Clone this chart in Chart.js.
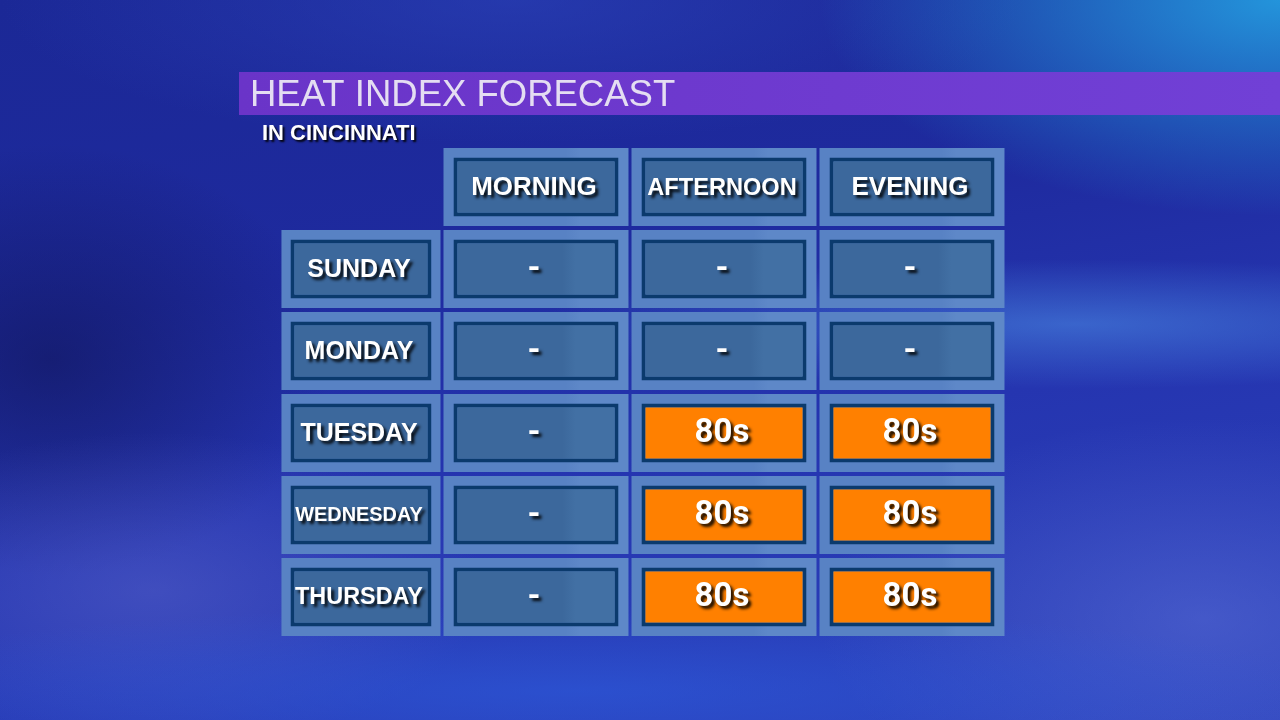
<!DOCTYPE html>
<html>
<head>
<meta charset="utf-8">
<title>Heat Index Forecast</title>
<script src="https://cdn.jsdelivr.net/npm/chart.js@4.4.1/dist/chart.umd.min.js"></script>
<style>
    html, body { margin: 0; padding: 0; width: 1280px; height: 720px; overflow: hidden; }
    body {
        background:
            radial-gradient(ellipse 36% 30% at 100% 0%, rgba(36, 160, 226, 0.9), rgba(36, 160, 226, 0) 100%),
            radial-gradient(ellipse 42% 9% at 84% 45%, rgba(80, 150, 235, 0.5), rgba(80, 150, 235, 0) 100%),
            radial-gradient(ellipse 60% 12% at 45% 96%, rgba(45, 95, 225, 0.55), rgba(45, 95, 225, 0) 100%),
            radial-gradient(ellipse 26% 22% at 12% 82%, rgba(95, 105, 205, 0.45), rgba(95, 105, 205, 0) 100%),
            radial-gradient(ellipse 30% 28% at 94% 86%, rgba(100, 120, 220, 0.45), rgba(100, 120, 220, 0) 100%),
            radial-gradient(ellipse 22% 30% at 4% 50%, rgba(14, 18, 80, 0.55), rgba(14, 18, 80, 0) 100%),
            radial-gradient(ellipse 40% 20% at 40% 0%, rgba(45, 70, 190, 0.55), rgba(45, 70, 190, 0) 100%),
            linear-gradient(170deg, #1b2896 0%, #1e2a9e 35%, #2535b0 60%, #2c42bc 100%);
    }
    canvas { display: block; }
</style>
</head>
<body>
<canvas id="heat-chart" width="1280" height="720"></canvas>
<script>
const titleText = 'HEAT INDEX FORECAST';
const subtitleText = 'IN CINCINNATI';
const periods = ['MORNING', 'AFTERNOON', 'EVENING'];
const days = ['SUNDAY', 'MONDAY', 'TUESDAY', 'WEDNESDAY', 'THURSDAY'];
const morning = ['-', '-', '-', '-', '-'];
const afternoon = ['-', '-', '80s', '80s', '80s'];
const evening = ['-', '-', '80s', '80s', '80s'];
const heatValues = ['80s'];

document.addEventListener('DOMContentLoaded', () => {
    const canvas = document.getElementById('heat-chart');
    const rows = [''].concat(days);
    const columns = [morning, afternoon, evening];

    // column geometry in x-scale units (one unit per period column)
    const dayCol = { center: 0.069, outer: 0.423, inner: 0.375 };
    const periodCol = { outer: 0.492, inner: 0.439 };
    const span = (c, h) => [c - h, c + h];

    const colors = {
        outer: '#5882c4',
        outerLight: '#5e88c8',
        inner: '#3c689c',
        innerLight: '#4270a4',
        border: '#0b3a6d',
        heat: '#ff8000'
    };

    const stepFill = (dark, light) => (ctx) => {
        const chart = ctx.chart;
        const raw = ctx.raw;
        if (!raw || !chart.chartArea) return dark;
        const x0 = chart.scales.x.getPixelForValue(raw[0]);
        const x1 = chart.scales.x.getPixelForValue(raw[1]);
        if (!Number.isFinite(x0) || !Number.isFinite(x1) || x1 <= x0) return dark;
        const g = chart.ctx.createLinearGradient(x0, 0, x1, 0);
        g.addColorStop(0, dark);
        g.addColorStop(0.66, dark);
        g.addColorStop(0.74, light);
        g.addColorStop(1, light);
        return g;
    };

    const datasets = [];

    // day label column
    datasets.push({
        label: 'day boxes',
        kind: 'day',
        texts: [null].concat(days),
        data: rows.map((r, i) => i === 0 ? null : span(dayCol.center, dayCol.inner)),
        backgroundColor: colors.inner,
        borderColor: colors.border,
        borderWidth: 4,
        borderSkipped: false,
        barPercentage: 0.72,
        order: 0
    });
    datasets.push({
        label: 'day frames',
        data: rows.map((r, i) => i === 0 ? null : span(dayCol.center, dayCol.outer)),
        backgroundColor: colors.outer,
        borderWidth: 0,
        barPercentage: 0.95,
        order: 1
    });

    // period columns: header row + one value per day
    columns.forEach((values, p) => {
        const texts = [periods[p]].concat(values);
        datasets.push({
            label: periods[p] + ' boxes',
            kind: 'value',
            texts: texts,
            data: rows.map(() => span(p + 1, periodCol.inner)),
            backgroundColor: (ctx) => {
                if (heatValues.includes(texts[ctx.dataIndex])) return colors.heat;
                if (ctx.dataIndex === 0) return colors.inner;
                return stepFill(colors.inner, colors.innerLight)(ctx);
            },
            borderColor: colors.border,
            borderWidth: 4,
            borderSkipped: false,
            barPercentage: 0.72,
            order: 0
        });
        datasets.push({
            label: periods[p] + ' frames',
            data: rows.map(() => span(p + 1, periodCol.outer)),
            backgroundColor: stepFill(colors.outer, colors.outerLight),
            borderWidth: 0,
            barPercentage: 0.95,
            order: 1
        });
    });

    const fitFont = (c, text, family, base, maxWidth) => {
        let size = base;
        c.font = `bold ${size}px ${family}`;
        const w = c.measureText(text).width;
        if (w > maxWidth) {
            size = Math.floor(base * maxWidth / w * 10) / 10;
            c.font = `bold ${size}px ${family}`;
        }
    };

    const sans = '"Liberation Sans", Arial, sans-serif';

    const cellLabels = {
        id: 'cellLabels',
        afterDatasetsDraw(chart) {
            const c = chart.ctx;
            chart.data.datasets.forEach((ds, di) => {
                if (!ds.texts) return;
                chart.getDatasetMeta(di).data.forEach((bar, i) => {
                    const text = ds.texts[i];
                    if (!text) return;
                    const { x, y } = bar.getCenterPoint();
                    c.save();
                    if (ds.kind === 'day') {
                        fitFont(c, text, sans, 25, 128);
                    } else if (i === 0) {
                        fitFont(c, text, sans, 26, 150);
                    } else {
                        fitFont(c, text, 'Roboto, ' + sans, 33, 150);
                    }
                    c.fillStyle = '#ffffff';
                    c.textAlign = 'center';
                    c.textBaseline = 'middle';
                    c.shadowColor = 'rgba(0, 0, 0, 0.9)';
                    c.shadowOffsetX = 3;
                    c.shadowOffsetY = 3;
                    c.shadowBlur = 3;
                    c.fillText(text, x - 2, y + 1);
                    c.restore();
                });
            });
        }
    };

    const titleBand = {
        id: 'titleBand',
        beforeDraw(chart) {
            const c = chart.ctx;
            c.save();
            const g = c.createLinearGradient(239, 0, chart.width, 0);
            g.addColorStop(0, '#6a34c8');
            g.addColorStop(1, '#7140d6');
            c.fillStyle = g;
            c.fillRect(239, 72, chart.width - 239, 43);
            c.fillStyle = '#e4ddf2';
            c.font = '36.5px ' + sans;
            c.textBaseline = 'alphabetic';
            c.fillText(titleText, 250, 106);
            c.font = 'bold 22px ' + sans;
            c.fillStyle = '#ffffff';
            c.shadowColor = 'rgba(0, 0, 0, 0.9)';
            c.shadowOffsetX = 2;
            c.shadowOffsetY = 2;
            c.shadowBlur = 2;
            c.fillText(subtitleText, 262, 140);
            c.restore();
        }
    };

    new Chart(canvas.getContext('2d'), {
        type: 'bar',
        data: { labels: rows, datasets: datasets },
        options: {
            responsive: false,
            animation: false,
            indexAxis: 'y',
            grouped: false,
            categoryPercentage: 1,
            layout: { padding: { left: 254, right: 274, top: 146, bottom: 82 } },
            scales: {
                x: { type: 'linear', min: -0.5, max: 3.5, display: false },
                y: { type: 'category', display: false, offset: true }
            },
            plugins: {
                legend: { display: false },
                title: { display: false },
                tooltip: { enabled: false }
            }
        },
        plugins: [titleBand, cellLabels]
    });
});
</script>
</body>
</html>
